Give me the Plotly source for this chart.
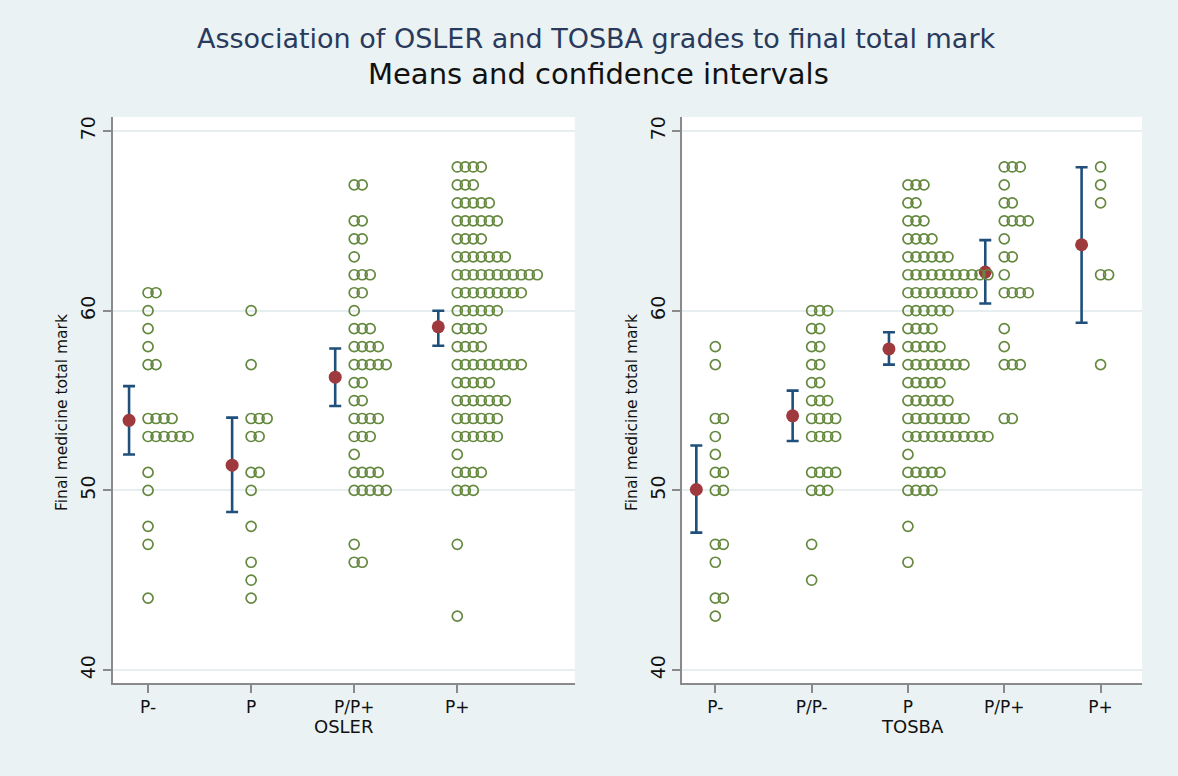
import plotly.graph_objects as go

W, H = 1178, 776

osler_cats = ["P-", "P", "P/P+", "P+"]
tosba_cats = ["P-", "P/P-", "P", "P/P+", "P+"]

# ---- individual marks (value, count) per grade ----
osler_pm_vals = [61, 60, 59, 58, 57, 54, 53, 51, 50, 48, 47, 44]
osler_pm_cnts = [2, 1, 1, 1, 2, 4, 6, 1, 1, 1, 1, 1]
osler_p_vals = [60, 57, 54, 53, 51, 50, 48, 46, 45, 44]
osler_p_cnts = [1, 1, 3, 2, 2, 1, 1, 1, 1, 1]
osler_ppp_vals = [67, 65, 64, 63, 62, 61, 60, 59, 58, 57, 56, 55, 54, 53, 52, 51, 50, 47, 46]
osler_ppp_cnts = [2, 2, 2, 1, 3, 2, 1, 3, 4, 5, 2, 2, 4, 3, 1, 4, 5, 1, 2]
osler_pp_vals = [68, 67, 66, 65, 64, 63, 62, 61, 60, 59, 58, 57, 56, 55, 54, 53, 52, 51, 50, 47, 43]
osler_pp_cnts = [4, 3, 5, 6, 4, 7, 11, 9, 6, 4, 4, 9, 5, 7, 6, 6, 1, 4, 3, 1, 1]

tosba_pm_vals = [58, 57, 54, 53, 52, 51, 50, 47, 46, 44, 43]
tosba_pm_cnts = [1, 1, 2, 1, 1, 2, 2, 2, 1, 2, 1]
tosba_ppm_vals = [60, 59, 58, 57, 56, 55, 54, 53, 51, 50, 47, 45]
tosba_ppm_cnts = [3, 2, 2, 2, 2, 3, 4, 4, 4, 3, 1, 1]
tosba_p_vals = [67, 66, 65, 64, 63, 62, 61, 60, 59, 58, 57, 56, 55, 54, 53, 52, 51, 50, 48, 46]
tosba_p_cnts = [3, 2, 3, 4, 6, 11, 9, 6, 4, 5, 8, 5, 6, 8, 11, 1, 5, 4, 1, 1]
tosba_ppp_vals = [68, 67, 66, 65, 64, 63, 62, 61, 59, 58, 57, 54]
tosba_ppp_cnts = [3, 1, 2, 4, 1, 2, 1, 4, 1, 1, 3, 2]
tosba_pp_vals = [68, 67, 66, 62, 57]
tosba_pp_cnts = [1, 1, 1, 2, 1]

# ---- means and confidence intervals ----
osler_mean = [53.9, 51.4, 56.3, 59.1]
osler_lo = [52.0, 48.8, 54.7, 58.05]
osler_hi = [55.8, 54.05, 57.9, 60.0]
tosba_mean = [50.05, 54.15, 57.87, 62.15, 63.67]
tosba_lo = [47.65, 52.75, 57.0, 60.4, 59.33]
tosba_hi = [52.5, 55.55, 58.8, 63.93, 67.98]

GREEN = "#65883F"
RED = "#9E3A3E"
NAVY = "#1F4F7A"
BG = "#EAF2F3"
AXC = "#8A8A8A"

# layout geometry (pixels)
L_X0, L_X1 = 112.7, 574.8
R_X0, R_X1 = 682.2, 1142.0
Y0, Y1 = 117.0, 683.0
L_RANGE = [0.657, 5.14]
R_RANGE = [0.656, 5.43]
Y_RANGE = [39.28, 70.78]
DOT_PX = 8.0
CI_PX = 19.0

fig = go.Figure()


def add_panel(cats, groups, means, los, his, xa, ya, rng, x0, x1):
    upp = (rng[1] - rng[0]) / (x1 - x0)  # data units per pixel
    xs_pos = list(range(1, len(cats) + 1))
    fig.add_trace(go.Scatter(
        x=[p - CI_PX * upp for p in xs_pos], y=means, mode="markers",
        marker=dict(size=13, color=RED, line=dict(width=0)),
        error_y=dict(type="data", symmetric=False,
                     array=[h - m for h, m in zip(his, means)],
                     arrayminus=[m - l for m, l in zip(means, los)],
                     color=NAVY, thickness=2.6, width=6),
        xaxis=xa, yaxis=ya, showlegend=False, hoverinfo="skip"))
    for pos, (vals, cnts) in zip(xs_pos, groups):
        xs, ys = [], []
        for v, c in zip(vals, cnts):
            for k in range(c):
                xs.append(pos + k * DOT_PX * upp)
                ys.append(v)
        fig.add_trace(go.Scatter(
            x=xs, y=ys, mode="markers",
            marker=dict(symbol="circle-open", size=10, color=GREEN,
                        line=dict(width=1.7, color=GREEN)),
            xaxis=xa, yaxis=ya, showlegend=False, hoverinfo="skip"))


add_panel(osler_cats,
          [(osler_pm_vals, osler_pm_cnts), (osler_p_vals, osler_p_cnts),
           (osler_ppp_vals, osler_ppp_cnts), (osler_pp_vals, osler_pp_cnts)],
          osler_mean, osler_lo, osler_hi, "x", "y", L_RANGE, L_X0, L_X1)
add_panel(tosba_cats,
          [(tosba_pm_vals, tosba_pm_cnts), (tosba_ppm_vals, tosba_ppm_cnts),
           (tosba_p_vals, tosba_p_cnts), (tosba_ppp_vals, tosba_ppp_cnts),
           (tosba_pp_vals, tosba_pp_cnts)],
          tosba_mean, tosba_lo, tosba_hi, "x2", "y2", R_RANGE, R_X0, R_X1)

FONT = "DejaVu Sans"

xcommon = dict(showgrid=False, zeroline=False, showline=True, linecolor=AXC,
               linewidth=2, ticks="outside", ticklen=8, tickwidth=1.5,
               tickcolor=AXC, tickfont=dict(family=FONT, size=17, color="#111"),
               fixedrange=True)
ycommon = dict(range=Y_RANGE, tickvals=[40, 50, 60, 70], showgrid=True,
               gridcolor="#E6EEF0", gridwidth=2, zeroline=False, showline=True,
               linecolor=AXC, linewidth=2, ticks="outside", ticklen=8,
               tickwidth=1.5, tickcolor=AXC, tickangle=-90,
               tickfont=dict(family=FONT, size=19, color="#111"),
               domain=[1 - Y1 / H, 1 - Y0 / H], fixedrange=True)

fig.update_layout(
    width=W, height=H,
    margin=dict(l=0, r=0, t=0, b=0, pad=0),
    paper_bgcolor=BG, plot_bgcolor="white",
    xaxis=dict(domain=[L_X0 / W, L_X1 / W], range=L_RANGE,
               tickvals=[1, 2, 3, 4], ticktext=osler_cats, anchor="y", **xcommon),
    yaxis=dict(anchor="x", **ycommon),
    xaxis2=dict(domain=[R_X0 / W, R_X1 / W], range=R_RANGE,
                tickvals=[1, 2, 3, 4, 5], ticktext=tosba_cats, anchor="y2", **xcommon),
    yaxis2=dict(anchor="x2", **ycommon),
)


def ann(text, px, py, size, color="#111", angle=0):
    fig.add_annotation(text=text, x=px / W, y=1 - py / H, xref="paper", yref="paper",
                       showarrow=False, xanchor="center", yanchor="middle",
                       textangle=angle, font=dict(family=FONT, size=size, color=color))


ann("Association of OSLER and TOSBA grades to final total mark", 596, 38, 27, "#2A3A5C")
ann("Means and confidence intervals", 598, 74, 29, "#111")
ann("OSLER", (L_X0 + L_X1) / 2, 726, 18)
ann("TOSBA", (R_X0 + R_X1) / 2, 726, 18)
ann("Final medicine total mark", 62, 413, 15.5, angle=-90)
ann("Final medicine total mark", 632, 413, 15.5, angle=-90)

fig.write_html("out.html", config={"displayModeBar": False},
               post_script="document.body.style.margin='0px';")
